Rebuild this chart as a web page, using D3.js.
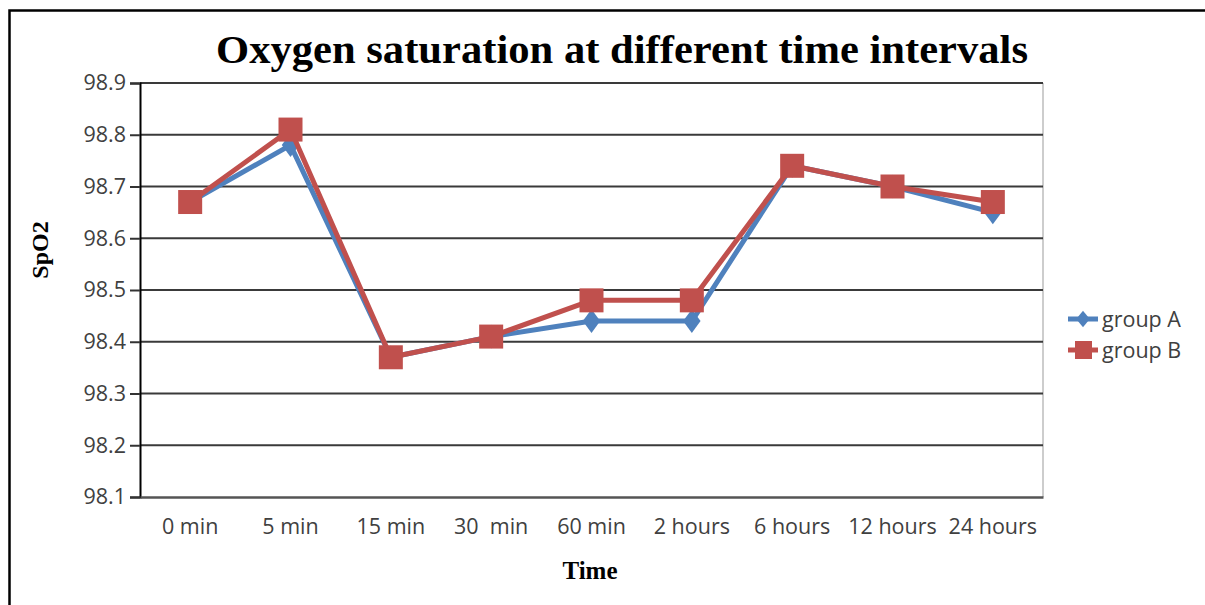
<!DOCTYPE html>
<html>
<head>
<meta charset="utf-8">
<script src="https://cdn.jsdelivr.net/npm/d3@7"></script>
<style>
  html, body { margin: 0; padding: 0; background: #fff; }
  svg { display: block; }
</style>
</head>
<body>
<svg id="chart" width="1205" height="605"></svg>
<script>
// Time points and mean SpO2 per group
const categories = ["0 min", "5 min", "15 min", "30  min", "60 min", "2 hours", "6 hours", "12 hours", "24 hours"];
const groupA = [98.67, 98.78, 98.37, 98.41, 98.44, 98.44, 98.74, 98.70, 98.65];
const groupB = [98.67, 98.81, 98.37, 98.41, 98.48, 98.48, 98.74, 98.70, 98.67];
const yTicks = [98.1, 98.2, 98.3, 98.4, 98.5, 98.6, 98.7, 98.8, 98.9];
const seriesNames = ["group A", "group B"];

const svg = d3.select("#chart");
const W = 1205, H = 605;
const plot = { left: 140, top: 83, right: 1043, bottom: 497 };

// Outer frame
svg.append("rect")
  .attr("x", 9.5).attr("y", 10.5)
  .attr("width", W + 20).attr("height", H + 20)
  .attr("fill", "#fff").attr("stroke", "#000").attr("stroke-width", 2.5);

const x = d3.scaleBand().domain(categories).range([plot.left, plot.right]);
const y = d3.scaleLinear().domain([98.1, 98.9]).range([plot.bottom, plot.top]);

// Right border of plot area
svg.append("line")
  .attr("x1", plot.right).attr("x2", plot.right)
  .attr("y1", plot.top).attr("y2", plot.bottom)
  .attr("stroke", "#bdbdbd").attr("stroke-width", 1.5);

// Horizontal gridlines
svg.append("g").selectAll("line")
  .data(yTicks.slice(1))
  .join("line")
  .attr("x1", plot.left).attr("x2", plot.right)
  .attr("y1", d => y(d)).attr("y2", d => y(d))
  .attr("stroke", "#3a3a3a").attr("stroke-width", 2);

const tickFont = "'Open Sans', sans-serif";

// Y axis
const yAxis = svg.append("g")
  .attr("transform", `translate(${plot.left},0)`)
  .call(d3.axisLeft(y).tickValues(yTicks).tickFormat(d3.format(".1f")).tickSize(10).tickPadding(4));
yAxis.select(".domain").attr("stroke", "#000").attr("stroke-width", 2);
yAxis.selectAll(".tick line").attr("stroke", "#333").attr("stroke-width", 2);
yAxis.selectAll(".tick text")
  .attr("font-family", tickFont).attr("font-size", 21.5).attr("fill", "#404040");

// X axis
const xAxis = svg.append("g")
  .attr("transform", `translate(0,${plot.bottom})`)
  .call(d3.axisBottom(x).tickSize(0).tickPadding(22));
xAxis.select(".domain").attr("stroke", "#555").attr("stroke-width", 2.5);
xAxis.selectAll(".tick text")
  .attr("font-family", tickFont).attr("font-size", 21.5).attr("fill", "#404040")
  .style("white-space", "pre");

// Title and axis titles
const serif = "'Liberation Serif', 'Times New Roman', serif";
svg.append("text")
  .attr("x", 622).attr("y", 63)
  .attr("text-anchor", "middle")
  .attr("font-family", serif)
  .attr("font-weight", "bold").attr("font-size", 40)
  .attr("textLength", 812).attr("lengthAdjust", "spacingAndGlyphs")
  .text("Oxygen saturation at different time intervals");

svg.append("text")
  .attr("x", 590).attr("y", 579)
  .attr("text-anchor", "middle")
  .attr("font-family", serif)
  .attr("font-weight", "bold").attr("font-size", 25)
  .text("Time");

svg.append("text")
  .attr("transform", "translate(48,250) rotate(-90)")
  .attr("text-anchor", "middle")
  .attr("font-family", serif)
  .attr("font-weight", "bold").attr("font-size", 24)
  .text("SpO2");

const cx = d => x(d) + x.bandwidth() / 2;
const line = d3.line().x((d, i) => cx(categories[i])).y(d => y(d));

const blue = "#4f81bd", red = "#c0504d";
const diamond = d3.symbol().type(d3.symbolDiamond).size(200);

// Group A
svg.append("path").datum(groupA)
  .attr("d", line).attr("fill", "none")
  .attr("stroke", blue).attr("stroke-width", 5).attr("stroke-linejoin", "round");
svg.append("g").selectAll("path")
  .data(groupA).join("path")
  .attr("d", diamond)
  .attr("transform", (d, i) => `translate(${cx(categories[i])},${y(d)}) scale(1.15,0.9)`)
  .attr("fill", blue);

// Group B
svg.append("path").datum(groupB)
  .attr("d", line).attr("fill", "none")
  .attr("stroke", red).attr("stroke-width", 5).attr("stroke-linejoin", "round");
svg.append("g").selectAll("rect")
  .data(groupB).join("rect")
  .attr("x", (d, i) => cx(categories[i]) - 12)
  .attr("y", d => y(d) - 12)
  .attr("width", 24).attr("height", 24)
  .attr("fill", red);

// Legend
const legend = svg.append("g");
const legendY = [319, 350];
seriesNames.forEach((name, i) => {
  const g = legend.append("g").attr("transform", `translate(1068,${legendY[i]})`);
  const col = i === 0 ? blue : red;
  g.append("line").attr("x1", 0).attr("x2", 30).attr("y1", 0).attr("y2", 0)
    .attr("stroke", col).attr("stroke-width", 5);
  if (i === 0) {
    g.append("path").attr("d", d3.symbol().type(d3.symbolDiamond).size(110))
      .attr("transform", "translate(15,0) scale(1.2,0.85)").attr("fill", col);
  } else {
    g.append("rect").attr("x", 7).attr("y", -9).attr("width", 17).attr("height", 18).attr("fill", col);
  }
  g.append("text").attr("x", 34).attr("y", 8)
    .attr("font-family", tickFont).attr("font-size", 21.5).attr("fill", "#404040")
    .text(name);
});
</script>
</body>
</html>
